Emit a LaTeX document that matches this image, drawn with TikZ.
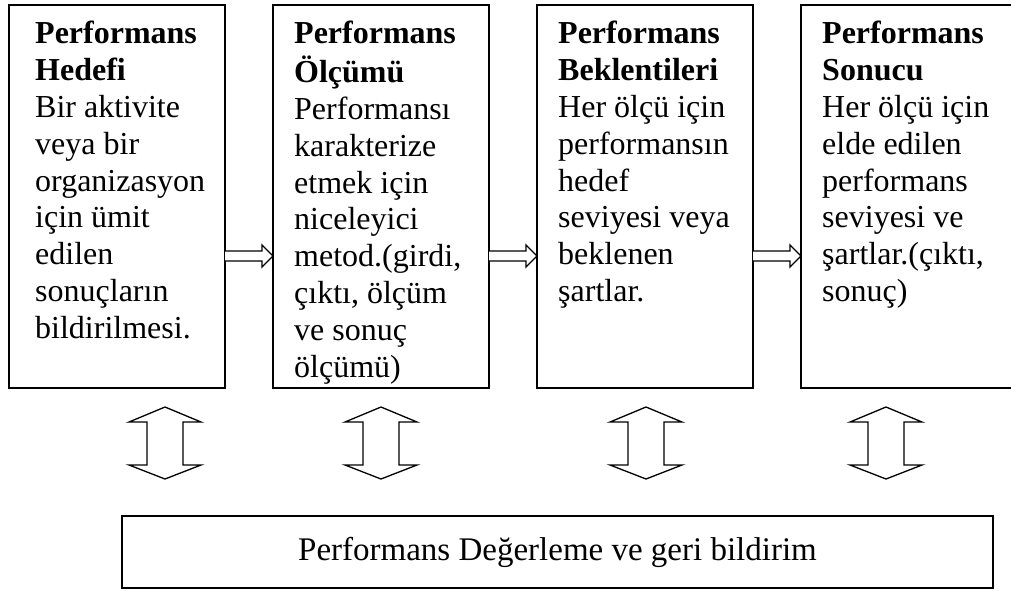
\documentclass[tikz,border=0pt]{standalone}
\usepackage{fontspec}
\setmainfont{Liberation Serif}
\begin{document}
\begin{tikzpicture}[x=1pt,y=-1pt,
  box/.style={draw, line width=1.4pt, rectangle, outer sep=0pt, inner sep=0pt},
  colbox/.style={box, minimum width=216pt, minimum height=383pt},
  coltext/.style={anchor=north west, inner sep=0pt, align=left,
    font=\fontsize{32}{36.8}\selectfont},
  outline/.style={draw, line width=1.3pt, line join=miter, fill=white}]
\clip (0,0) rectangle (1011,590);

% four stages of the performance cycle
\node[colbox] (b1) at (117,196.5) {};
\node[colbox] (b2) at (381,196.5) {};
\node[colbox] (b3) at (645,196.5) {};
\node[colbox] (b4) at (909,196.5) {};

\node[coltext] (t1) at (35,18) {\strut\textbf{Performans}\\\textbf{Hedefi}\\Bir aktivite\\veya bir\\organizasyon\\için ümit\\edilen\\sonuçların\\bildirilmesi.};
\node[coltext] (t2) at (294,18) {\strut\textbf{Performans}\\\textbf{Ölçümü}\\Performansı\\karakterize\\etmek için\\niceleyici\\metod.(girdi,\\çıktı, ölçüm\\ve sonuç\\ölçümü)};
\node[coltext] (t3) at (558,18) {\strut\textbf{Performans}\\\textbf{Beklentileri}\\Her ölçü için\\performansın\\hedef\\seviyesi veya\\beklenen\\şartlar.};
\node[coltext] (t4) at (822,18) {\strut\textbf{Performans}\\\textbf{Sonucu}\\Her ölçü için\\elde edilen\\performans\\seviyesi ve\\şartlar.(çıktı,\\sonuç)};

% feedback box
\node[box, minimum width=871pt, minimum height=72pt] (fb) at (557.5,552) {};
\node[font=\fontsize{33}{38}\selectfont, inner sep=0pt] (fbt) at (fb.center) {Performans Değerleme ve geri bildirim};

% hollow block arrows between the stages
\coordinate (hy) at (0,256);
\foreach \a/\b in {b1/b2, b2/b3, b3/b4} {
  \draw[outline] (\a.east |- hy) ++(0,-5) -- ++(37,0) -- ++(0,-6)
    -- (\b.west |- hy) -- ++(-11,11) -- ++(0,-6) -- ++(-37,0);
}

% two-way arrows linking each stage with the feedback box
\foreach \n/\x in {1/165, 2/381, 3/646, 4/886} {
  \coordinate (v\n) at (\x,443);
  \draw[outline] (v\n) ++(0,-36) -- ++(36,15) -- ++(-18,0) -- ++(0,43)
    -- ++(18,0) -- ++(-36,14) -- ++(-36,-14) -- ++(18,0) -- ++(0,-43)
    -- ++(-18,0) -- cycle;
}
\end{tikzpicture}
\end{document}
